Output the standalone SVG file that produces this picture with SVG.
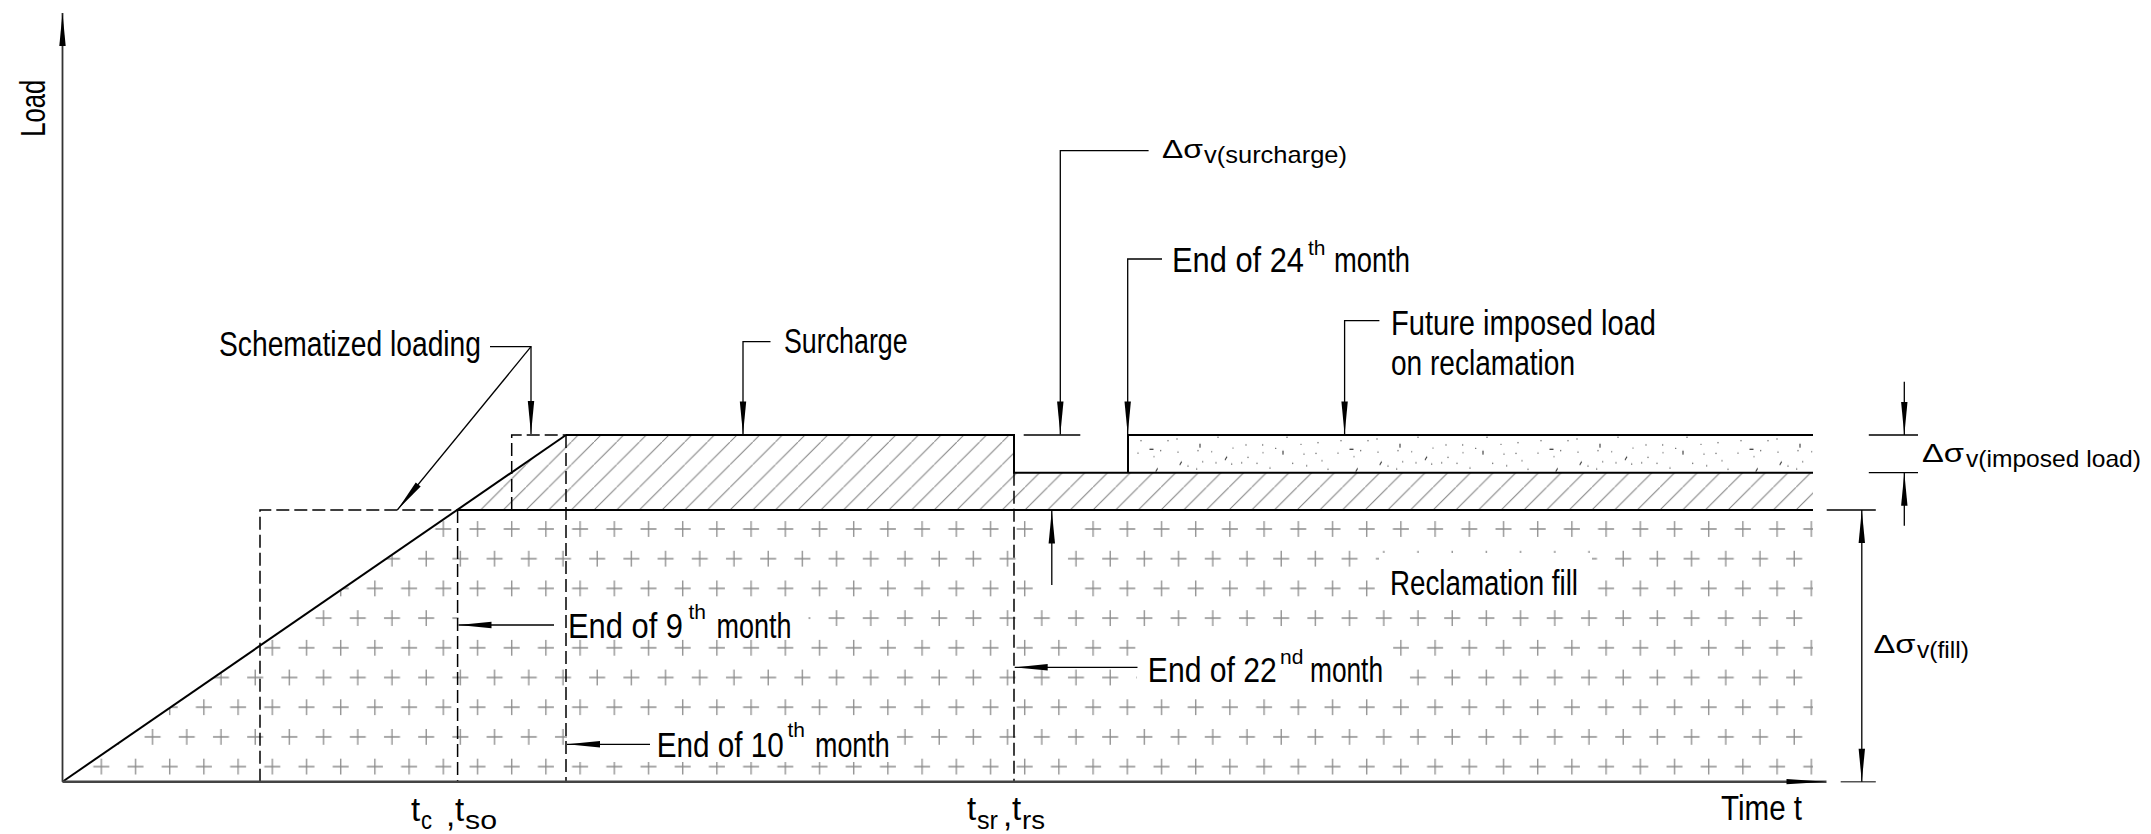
<svg xmlns="http://www.w3.org/2000/svg" width="2151" height="834" viewBox="0 0 2151 834">
<style>
text{font-family:"Liberation Sans",Arial,sans-serif;fill:#000}
.t{font-size:35.5px}
.sup{font-size:21px}
.gr{font-size:26px}
.sub{font-size:24px}
.tt{font-size:33px}
.ts{font-size:26px}
.ol{fill:none;stroke:#000;stroke-width:2}
.da{fill:none;stroke:#000;stroke-width:1.5;stroke-dasharray:13 5}
.ld{fill:none;stroke:#000;stroke-width:1.3}
.ar{marker-end:url(#ah)}
.msk{fill:#fff}
</style>
<defs>
<marker id="ah" markerUnits="userSpaceOnUse" viewBox="-34 -4 35 8" refX="0" refY="0" markerWidth="35" markerHeight="8" orient="auto-start-reverse"><path d="M0 0L-33 -3.2L-33 3.2Z" fill="#000"/></marker>
<marker id="axh" markerUnits="userSpaceOnUse" viewBox="-42 -4 43 8" refX="0" refY="0" markerWidth="43" markerHeight="8" orient="auto"><path d="M0 0L-40 -2.6L-40 2.6Z" fill="#000"/></marker>
<pattern id="cross" patternUnits="userSpaceOnUse" x="503.15" y="514.15" width="34.2" height="59.4">
<path d="M0.55 14.85h16M8.55 6.85v16M17.65 44.55h16M25.65 36.55v16" fill="none" stroke="#8c8c8c" stroke-width="1.3"/>
</pattern>
<pattern id="hatch" patternUnits="userSpaceOnUse" x="503.3" y="487.32" width="22.68" height="22.68">
<path d="M-2 24.68L24.68 -2" fill="none" stroke="#808080" stroke-width="1"/>
</pattern>
<pattern id="dots" patternUnits="userSpaceOnUse" x="1130" y="435" width="200" height="37.7">
<g fill="#555">
<circle cx="11" cy="5.7" r="0.7"/><circle cx="38" cy="5.7" r="0.7"/><circle cx="47" cy="4" r="0.7"/>
<circle cx="30.7" cy="15.7" r="0.7"/><circle cx="48" cy="17" r="0.7"/><circle cx="24" cy="21.7" r="0.7"/>
<circle cx="8" cy="18" r="0.7"/><circle cx="68" cy="15.7" r="0.7"/><circle cx="81.7" cy="16.7" r="0.7"/>
<circle cx="72.7" cy="26.7" r="0.7"/><circle cx="66.7" cy="34" r="0.7"/><circle cx="88" cy="2.3" r="0.7"/>
<circle cx="103" cy="13" r="0.7"/><circle cx="86" cy="27.7" r="0.7"/><circle cx="101.7" cy="29" r="0.7"/>
<circle cx="111.7" cy="27.7" r="0.7"/><circle cx="116" cy="10" r="0.7"/><circle cx="118" cy="22.3" r="0.7"/>
<circle cx="127" cy="28.3" r="0.7"/><circle cx="132.7" cy="10" r="0.7"/><circle cx="133" cy="17.7" r="0.7"/>
<circle cx="145.7" cy="13.3" r="0.7"/><circle cx="157" cy="2.3" r="0.7"/><circle cx="162.7" cy="28.3" r="0.7"/>
<circle cx="171" cy="9.3" r="0.7"/><circle cx="174" cy="19" r="0.7"/><circle cx="176.7" cy="30.7" r="0.7"/>
<circle cx="186" cy="18.3" r="0.7"/><circle cx="188" cy="7.7" r="0.7"/><circle cx="192" cy="25.7" r="0.7"/>
<circle cx="198" cy="34.3" r="0.7"/><circle cx="58" cy="31" r="0.7"/><circle cx="140" cy="33" r="0.7"/>
</g>
<path d="M19.5 14.3h4M70 8.7v4M153 15.7v4M49.7 30l2-3.5M25.7 36.7l2-3.5M95 25l2-3.5" fill="none" stroke="#333" stroke-width="1.1"/>
</pattern>
</defs>
<rect width="2151" height="834" fill="#fff"/>

<g id="reclamation-fill">
<polygon points="62.5,781.7 457.6,510 1813,510 1813,781.7" fill="url(#cross)"/>
<rect class="msk" x="458.5" y="600" width="350" height="39"/>
<rect class="msk" x="567" y="716" width="326" height="46"/>
<rect class="msk" x="1137" y="638" width="256" height="55"/>
<rect class="msk" x="1379" y="553" width="213" height="45"/>
<rect class="msk" x="1033" y="515" width="34" height="83"/>
</g>

<g id="surcharge">
<polygon points="457.6,510 566,435 1014,435 1014,472.7 1813,472.7 1813,510" fill="url(#hatch)"/>
<path class="ol" d="M566 435H1014V472.7H1813"/>
</g>

<g id="imposed-load">
<rect x="1128" y="435" width="685" height="37.7" fill="url(#dots)"/>
<path class="ol" d="M1128 472.7V435H1813"/>
</g>

<g id="fill-outline">
<path class="ol" d="M62.5 781.7L566 435"/>
<path class="ol" d="M457.6 510H1813"/>
</g>

<g id="schematized">
<path class="da" d="M260 781.7V510H457.6"/>
<path class="da" d="M457.6 510V781.7"/>
<path class="da" d="M511.7 510V435H566"/>
<path class="da" d="M566 435V781.7"/>
<path class="da" d="M1014 472.7V781.7"/>
</g>

<g id="axes">
<path d="M62.5 781.7V13" fill="none" stroke="#333" stroke-width="1.8" marker-end="url(#ah)"/>
<path d="M62.5 781.7H1826.5" fill="none" stroke="#444" stroke-width="2.5" marker-end="url(#axh)"/>
<text transform="translate(44.6,136.7) rotate(-90)" textLength="57" lengthAdjust="spacingAndGlyphs" font-size="35">Load</text>
<text class="t" x="1721" y="820" textLength="81" lengthAdjust="spacingAndGlyphs">Time t</text>
</g>

<g id="connectors">
<path class="ld ar" d="M490 346.7H531V434"/>
<path class="ld ar" d="M531 346.7L397.3 510"/>
<path class="ld ar" d="M770.5 341.7H743V434.5"/>
<path class="ld ar" d="M1148.6 150.7H1060.3V434.5"/>
<path class="ld" d="M1023.7 435H1080.3"/>
<path class="ld ar" d="M1162 259H1127.7V434.5"/>
<path class="ld ar" d="M1379.4 320.7H1344.6V434.5"/>
<path class="ld ar" d="M1904.3 381.7V435"/>
<path class="ld" d="M1868.8 435H1918M1868.8 472.7H1918"/>
<path class="ld ar" d="M1904.3 525.7V472.7"/>
<path class="ld" d="M1826.7 510H1875.8"/>
<path d="M1840.7 781.7H1875.8" fill="none" stroke="#555" stroke-width="1.5"/>
<path class="ld" d="M1861.8 510V781.7" marker-start="url(#ah)" marker-end="url(#ah)"/>
<path class="ld ar" d="M1051.8 585V510.5"/>
<path class="ld ar" d="M1137.5 667.3H1014.7"/>
<path class="ld ar" d="M554 625H458.5"/>
<path class="ld ar" d="M650 744.3H567"/>
</g>

<g id="label-schematized"><text class="t" x="219" y="355.5" textLength="262" lengthAdjust="spacingAndGlyphs">Schematized  loading</text></g>
<g id="label-surcharge"><text class="t" x="784" y="353" textLength="123.6" lengthAdjust="spacingAndGlyphs">Surcharge</text></g>
<g id="label-dsigma-surcharge"><text><tspan class="gr" x="1162" y="158.3" textLength="41" lengthAdjust="spacingAndGlyphs">Δσ</tspan><tspan class="sub" x="1204" y="163.3" textLength="143" lengthAdjust="spacingAndGlyphs">v(surcharge)</tspan></text></g>
<g id="label-24th"><text class="t"><tspan x="1172" y="272.3" textLength="132" lengthAdjust="spacingAndGlyphs">End  of  24</tspan><tspan class="sup" x="1308" y="255">th </tspan><tspan x="1334" y="272.3" textLength="76" lengthAdjust="spacingAndGlyphs">month</tspan></text></g>
<g id="label-future"><text class="t"><tspan x="1391" y="335" textLength="265" lengthAdjust="spacingAndGlyphs">Future  imposed  load</tspan><tspan x="1391" y="375" textLength="184" lengthAdjust="spacingAndGlyphs">on  reclamation</tspan></text></g>
<g id="label-dsigma-imposed"><text><tspan class="gr" x="1922" y="461.7" textLength="42" lengthAdjust="spacingAndGlyphs">Δσ</tspan><tspan class="sub" x="1966" y="466.7" textLength="175" lengthAdjust="spacingAndGlyphs">v(imposed  load)</tspan></text></g>
<g id="label-dsigma-fill"><text><tspan class="gr" x="1873.4" y="653.3" textLength="42" lengthAdjust="spacingAndGlyphs">Δσ</tspan><tspan class="sub" x="1917" y="658.3" textLength="52" lengthAdjust="spacingAndGlyphs">v(fill)</tspan></text></g>
<g id="label-reclamation"><text class="t" x="1390" y="595" textLength="188" lengthAdjust="spacingAndGlyphs">Reclamation  fill</text></g>
<g id="label-22nd"><text class="t"><tspan x="1147.8" y="681.7" textLength="129" lengthAdjust="spacingAndGlyphs">End  of  22</tspan><tspan class="sup" x="1280" y="663.5">nd </tspan><tspan x="1310" y="681.7" textLength="73" lengthAdjust="spacingAndGlyphs">month</tspan></text></g>
<g id="label-9th"><text class="t"><tspan x="568" y="638.3" textLength="115" lengthAdjust="spacingAndGlyphs">End  of  9</tspan><tspan class="sup" x="688.5" y="619">th </tspan><tspan x="716.5" y="638.3" textLength="75" lengthAdjust="spacingAndGlyphs">month</tspan></text></g>
<g id="label-10th"><text class="t"><tspan x="656.7" y="756.7" textLength="127" lengthAdjust="spacingAndGlyphs">End  of  10</tspan><tspan class="sup" x="787.5" y="737">th </tspan><tspan x="815" y="756.7" textLength="74.7" lengthAdjust="spacingAndGlyphs">month</tspan></text></g>
<g id="label-tc-tso"><text><tspan class="tt" x="411" y="820.7">t</tspan><tspan class="ts" x="421" y="829.3" textLength="11" lengthAdjust="spacingAndGlyphs">c</tspan><tspan class="tt" x="446" y="826">,</tspan><tspan class="tt" x="455" y="820.7">t</tspan><tspan class="ts" x="465" y="829.3" textLength="32" lengthAdjust="spacingAndGlyphs">so</tspan></text></g>
<g id="label-tsr-trs"><text><tspan class="tt" x="967" y="820">t</tspan><tspan class="ts" x="977" y="829.3" textLength="21" lengthAdjust="spacingAndGlyphs">sr</tspan><tspan class="tt" x="1003" y="826">,</tspan><tspan class="tt" x="1012" y="820">t</tspan><tspan class="ts" x="1022" y="829.3" textLength="23" lengthAdjust="spacingAndGlyphs">rs</tspan></text></g>
</svg>
